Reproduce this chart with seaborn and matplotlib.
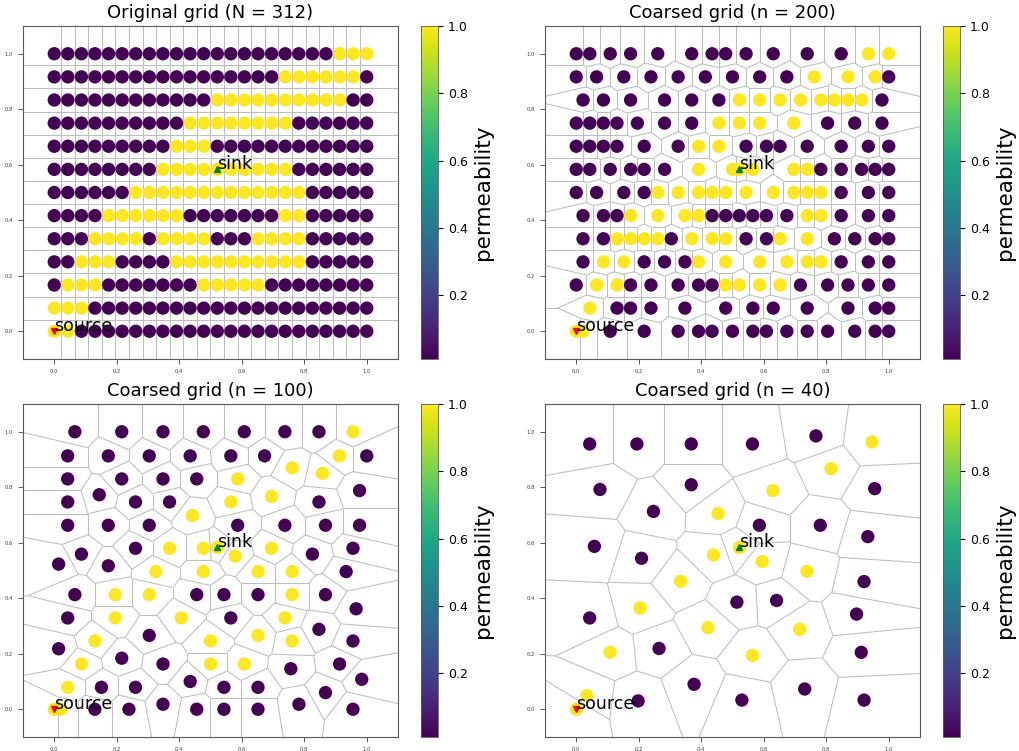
import numpy as np
import pandas as pd
import matplotlib
matplotlib.use("Agg")
import matplotlib.pyplot as plt
import matplotlib.tri as mtri
from matplotlib.collections import LineCollection
from matplotlib.colors import Normalize
from matplotlib.cm import ScalarMappable
import seaborn as sns

# ---------------- data ----------------
PERM_LOW, PERM_HIGH = 0.01, 1.0
N_COLS, N_ROWS = 24, 13
sink_xy = (12 / 23, 7 / 12)
source_xy = (0.0, 0.0)

# original grid, rows from top (y=1) to bottom (y=0); 1 = high permeability
orig_rows = [
    "0000 0000 0000 0000 0000 0111",
    "0000 0000 0000 0000 0111 1110",
    "0000 0000 0000 1111 1111 1100",
    "0000 0000 0011 1111 1100 0000",
    "0000 0000 0111 0000 0000 0000",
    "0000 0000 1111 1111 1100 0000",
    "0000 0011 1111 1111 1110 0000",
    "0000 1111 1100 0000 0110 0000",
    "0001 1110 1111 0001 1110 0000",
    "0011 1000 0111 1111 1110 0000",
    "0111 0000 0001 1111 0000 0000",
    "1110 0000 0000 0000 0000 0000",
    "1100 0000 0000 0000 0000 0000",
]

# coarse grid n=200: column positions (grid units) per row, top row first
c200_cols = [
    [0, 1, 2.5, 4, 6, 8.5, 10, 11, 12.5, 14.5, 17, 19.5, 21.5, 23],
    [0, 1.5, 3.5, 5.5, 7.5, 9.5, 11.5, 13.5, 15.5, 17.5, 20, 22, 23],
    [0.5, 2, 4, 6.5, 8.5, 10.5, 12, 13.5, 15, 16.5, 18, 19, 20, 21, 22.5],
    [0, 1, 2, 3, 4.5, 6.5, 8.5, 10.5, 12, 13.5, 16, 18.5, 20.5, 22.5],
    [0, 1, 2, 3, 5, 7.5, 9, 10.5, 12.5, 14, 15, 17, 19.5, 21.5, 23],
    [0, 1, 2.5, 4, 5, 6.5, 9, 11.5, 12, 13, 16, 17, 18, 19.5, 21, 22, 23],
    [0, 1.5, 3.5, 5, 6, 7.5, 9, 10, 11, 12.5, 14.5, 16, 17, 18, 19.5, 21.5, 23],
    [0.5, 2, 3, 4, 6, 8, 9, 10, 11, 12, 13, 14, 15.5, 17, 18, 19.5, 21.5, 23],
    [0.5, 2, 3, 4, 5, 6, 7, 8.5, 10, 11, 12.5, 14, 15, 17, 19, 20.5, 22, 23],
    [0.5, 2, 3.5, 5, 6.5, 8, 9, 11, 13.5, 15.5, 17, 18, 19.5, 21.5, 23],
    [0, 1.5, 3, 4, 5.5, 7.5, 9, 10, 11, 12, 13.5, 15, 16.5, 18.5, 20, 21.5, 23],
    [1, 3, 4, 5.5, 8, 11, 13, 14.5, 17, 20, 22, 23],
    [0, 0.5, 2.5, 5, 7.5, 9, 10, 11.5, 13, 14, 15.5, 17, 18.5, 20.5, 22, 23],
]
c200_flags = [
    "00000000000011",
    "0000000001110",
    "000000111111110",
    "00000001111000",
    "000000110000000",
    "00000011111100000",
    "00001111111111000",
    "000111100000011000",
    "001111011100110000",
    "011000111111000",
    "01100000111100000",
    "100000000000",
    "1100000000000000",
]

# coarse grid n=100
p100_x = [0.066, 0.216, 0.348, 0.477, 0.608, 0.738, 0.847, 0.956,
          0.043, 0.173, 0.304, 0.435, 0.565, 0.673, 0.912, 1.0, 0.761, 0.858,
          0.043, 0.216, 0.348, 0.456, 0.587, 0.977,
          0.043, 0.144, 0.260, 0.369, 0.565, 0.695, 0.847, 0.442,
          0.043, 0.173, 0.304, 0.587, 0.738, 0.868, 0.977,
          0.260, 0.369, 0.477, 0.522, 0.695, 0.956, 0.579, 0.826, 0.087, 0.014, 0.173,
          0.325, 0.477, 0.652, 0.761, 0.934,
          0.066, 0.195, 0.304, 0.456, 0.543, 0.652, 0.761, 0.868, 0.966,
          0.043, 0.195, 0.406, 0.565, 0.738, 0.847, 0.304, 0.652,
          0.130, 0.500, 0.761, 0.956, 0.014, 0.216,
          0.087, 0.348, 0.500, 0.608, 0.913, 0.757, 0.984, 0.435,
          0.043, 0.151, 0.260, 0.543, 0.652, 0.868,
          0.130, 0.239, 0.348, 0.456, 0.543, 0.652, 0.783, 0.956,
          0.0, 0.021]
p100_y = [1.0, 1.0, 1.0, 1.0, 1.0, 1.0, 1.0, 1.0,
          0.913, 0.913, 0.913, 0.913, 0.913, 0.913, 0.913, 0.913, 0.870, 0.850,
          0.830, 0.830, 0.830, 0.830, 0.830, 0.788,
          0.747, 0.773, 0.747, 0.747, 0.747, 0.767, 0.747, 0.698,
          0.663, 0.663, 0.663, 0.663, 0.663, 0.663, 0.663,
          0.580, 0.580, 0.580, 0.583, 0.580, 0.580, 0.552, 0.559, 0.559, 0.523, 0.517,
          0.496, 0.496, 0.496, 0.496, 0.496,
          0.413, 0.413, 0.413, 0.413, 0.413, 0.413, 0.413, 0.413, 0.362,
          0.329, 0.329, 0.329, 0.329, 0.329, 0.288, 0.266, 0.266,
          0.246, 0.246, 0.246, 0.246, 0.218, 0.184,
          0.163, 0.163, 0.163, 0.163, 0.163, 0.146, 0.108, 0.100,
          0.079, 0.079, 0.079, 0.079, 0.079, 0.060,
          0.0, 0.0, 0.018, 0.0, 0.0, 0.0, 0.018, 0.0,
          0.0, 0.0]
p100_k = [0, 0, 0, 0, 0, 0, 0, 1,
          0, 0, 0, 0, 0, 0, 1, 0, 1, 1,
          0, 0, 0, 0, 1, 0,
          0, 0, 0, 0, 1, 1, 0, 1,
          0, 0, 0, 0, 0, 0, 0,
          0, 1, 1, 1, 1, 0, 1, 0, 0, 0, 0,
          1, 1, 1, 1, 0,
          0, 1, 1, 0, 0, 0, 1, 0, 0,
          0, 1, 1, 0, 1, 0, 0, 1,
          1, 1, 1, 0, 0, 0,
          1, 0, 1, 1, 0, 0, 0, 0,
          1, 0, 0, 0, 0, 0,
          0, 0, 0, 0, 0, 0, 0, 0,
          1, 1]

# coarse grid n=40
p40_x = [0.043, 0.194, 0.368, 0.564, 0.767, 0.946,
         0.076, 0.368, 0.815, 0.629, 0.955,
         0.247, 0.454, 0.586, 0.781, 0.933,
         0.058, 0.209, 0.439, 0.522, 0.595, 0.738,
         0.334, 0.921, 0.204, 0.514, 0.641, 0.897,
         0.043, 0.421, 0.715, 0.108, 0.265, 0.564,
         0.912, 0.377, 0.731, 0.530, 0.921, 0.198,
         0.034, 0.0]
p40_y = [0.956, 0.956, 0.956, 0.956, 0.985, 0.963,
         0.792, 0.809, 0.867, 0.788, 0.795,
         0.713, 0.705, 0.663, 0.663, 0.622,
         0.587, 0.544, 0.556, 0.583, 0.532, 0.497,
         0.461, 0.460, 0.365, 0.386, 0.392, 0.343,
         0.329, 0.294, 0.288, 0.205, 0.219, 0.194,
         0.205, 0.090, 0.073, 0.033, 0.033, 0.030,
         0.049, 0.0]
p40_k = [0, 0, 0, 0, 0, 1,
         0, 0, 1, 1, 0,
         0, 1, 0, 0, 0,
         0, 0, 1, 1, 1, 1,
         1, 0, 1, 0, 0, 0,
         0, 1, 1, 1, 0, 1,
         0, 0, 0, 0, 0, 0,
         1, 1]

titles = ["Original grid (N = 312)", "Coarsed grid (n = 200)",
          "Coarsed grid (n = 100)", "Coarsed grid (n = 40)"]


# ---------------- build tables ----------------
def perm_of(flags):
    return np.where(np.asarray(flags) == 1, PERM_HIGH, PERM_LOW)


def table_orig():
    xs, ys, ks = [], [], []
    for r, s in enumerate(orig_rows):
        s = s.replace(" ", "")
        row = N_ROWS - 1 - r
        for c, ch in enumerate(s):
            xs.append(c / (N_COLS - 1))
            ys.append(row / (N_ROWS - 1))
            ks.append(int(ch))
    return pd.DataFrame({"x": xs, "y": ys, "perm": perm_of(ks)})


def table_200():
    xs, ys, ks = [], [], []
    for r, (cols, fl) in enumerate(zip(c200_cols, c200_flags)):
        row = N_ROWS - 1 - r
        for c, ch in zip(cols, fl):
            xs.append(c / (N_COLS - 1))
            ys.append(row / (N_ROWS - 1))
            ks.append(int(ch))
    return pd.DataFrame({"x": xs, "y": ys, "perm": perm_of(ks)})


def table_xy(x, y, k):
    return pd.DataFrame({"x": x, "y": y, "perm": perm_of(k)})


tables = [table_orig(), table_200(), table_xy(p100_x, p100_y, p100_k),
          table_xy(p40_x, p40_y, p40_k)]


# ---------------- voronoi edges via Delaunay ----------------
def voronoi_segments(px, py):
    P = np.column_stack([px, py]).astype(float)
    tri = mtri.Triangulation(P[:, 0], P[:, 1])
    T = tri.triangles
    nb = tri.neighbors
    A, B, C = P[T[:, 0]], P[T[:, 1]], P[T[:, 2]]
    d = 2 * (A[:, 0] * (B[:, 1] - C[:, 1]) + B[:, 0] * (C[:, 1] - A[:, 1])
             + C[:, 0] * (A[:, 1] - B[:, 1]))
    ok = np.abs(d) > 1e-12
    dd = np.where(ok, d, 1.0)
    a2, b2, c2 = (A ** 2).sum(1), (B ** 2).sum(1), (C ** 2).sum(1)
    ux = (a2 * (B[:, 1] - C[:, 1]) + b2 * (C[:, 1] - A[:, 1]) + c2 * (A[:, 1] - B[:, 1])) / dd
    uy = (a2 * (C[:, 0] - B[:, 0]) + b2 * (A[:, 0] - C[:, 0]) + c2 * (B[:, 0] - A[:, 0])) / dd
    cc = np.column_stack([ux, uy])
    center = P.mean(0)
    far = np.ptp(P, axis=0).max() * 5
    segs = []
    for i in range(len(T)):
        if not ok[i]:
            continue
        for j in range(3):
            k = nb[i, j]
            if k == -1:
                p1 = P[T[i, j]]
                p2 = P[T[i, (j + 1) % 3]]
                t = p2 - p1
                t = t / np.hypot(t[0], t[1])
                n = np.array([-t[1], t[0]])
                mid = (p1 + p2) / 2
                sgn = np.sign(np.dot(mid - center, n)) or 1.0
                segs.append([cc[i], cc[i] + sgn * n * far])
            elif k > i and ok[k]:
                segs.append([cc[i], cc[k]])
    return segs


# ---------------- figure ----------------
sns.set_style("ticks", {"axes.edgecolor": "0.35", "text.color": "black",
                        "xtick.color": "0.25", "ytick.color": "0.25"})
plt.rcParams["font.family"] = ["DejaVu Sans"]

W, H = 1020, 751
fig = plt.figure(figsize=(W / 100, H / 100), dpi=100)


def add_ax(left, top, w, h):
    return fig.add_axes([left / W, 1 - (top + h) / H, w / W, h / H])


layout = [(23, 26), (545, 26), (23, 404), (545, 404)]
AW, AH = 375, 333
norm = Normalize(PERM_LOW, PERM_HIGH)

for df, title, (lx, ty) in zip(tables, titles, layout):
    ax = add_ax(lx, ty, AW, AH)
    cax = add_ax(lx + AW + 23, ty, 17, AH)

    segs = voronoi_segments(df["x"].values, df["y"].values)
    ax.add_collection(LineCollection(segs, colors="#bdbdbd", linewidths=0.75, zorder=1))

    sns.scatterplot(data=df, x="x", y="y", hue="perm", palette="viridis",
                    hue_norm=(PERM_LOW, PERM_HIGH), s=92, linewidth=0,
                    legend=False, ax=ax, zorder=2)

    ax.plot(*sink_xy, marker="^", color="green", ms=5, zorder=3)
    ax.plot(*source_xy, marker="v", color="red", ms=5, zorder=3)
    ax.text(*sink_xy, "sink", fontsize=12.5, color="black", zorder=4)
    ax.text(*source_xy, "source", fontsize=12.5, color="black", zorder=4)

    ax.set_xlim(-0.1, 1.1)
    ax.set_ylim(-0.1, 1.1)
    ticks = [0.0, 0.2, 0.4, 0.6, 0.8, 1.0]
    ax.set_xticks(ticks)
    ax.set_yticks(ticks)
    ax.tick_params(labelsize=3.8, length=3.5, width=0.6)
    ax.set_xlabel("")
    ax.set_ylabel("")
    ax.set_title(title, fontsize=13, color="black")

    cb = fig.colorbar(ScalarMappable(norm=norm, cmap="viridis"), cax=cax)
    cb.set_ticks([0.2, 0.4, 0.6, 0.8, 1.0])
    cb.ax.tick_params(labelsize=9, colors="black")
    cb.set_label("permeability", fontsize=15.5, color="black")
    cb.outline.set_linewidth(0.6)

fig.savefig("out.png", dpi=100)
